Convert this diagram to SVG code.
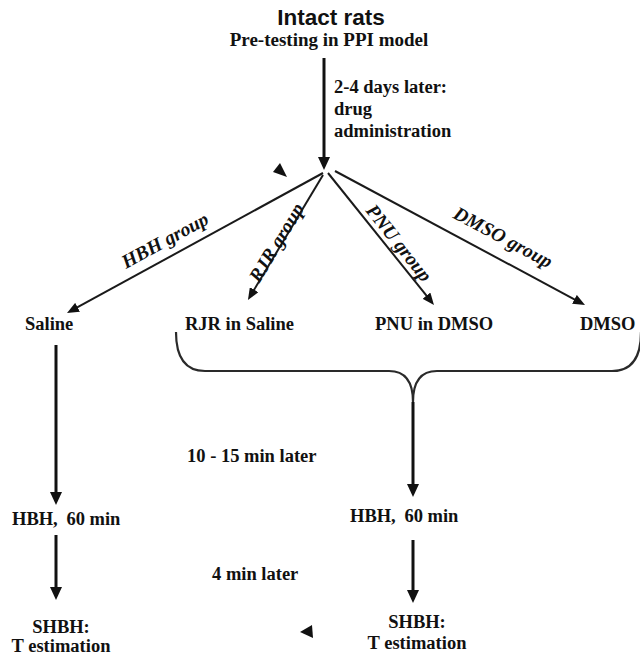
<svg xmlns="http://www.w3.org/2000/svg" width="640" height="656" viewBox="0 0 640 656">
<defs>
<style>
.t{font-family:"Liberation Serif","Times New Roman",serif;font-weight:bold;font-size:18.5px;fill:#111}
.title{font-family:"Liberation Sans",Arial,sans-serif;font-weight:bold;font-size:22.5px;fill:#111}
.lbl{font-family:"Liberation Serif","Times New Roman",serif;font-weight:bold;font-style:italic;font-size:19.5px;fill:#111}
.thick{stroke:#111;stroke-width:3;fill:none}
.thin{stroke:#1a1a1a;stroke-width:2;fill:none}
.brace{stroke:#2a2a2a;stroke-width:2.2;fill:none}
</style>
<marker id="ah" markerUnits="userSpaceOnUse" markerWidth="13" markerHeight="12" refX="3" refY="6" orient="auto">
<path d="M0,0 L13,6 L0,12 z" fill="#111"/>
</marker>
<marker id="ah2" markerUnits="userSpaceOnUse" markerWidth="12" markerHeight="10" refX="2" refY="5" orient="auto">
<path d="M0,0 L12,5 L0,10 z" fill="#111"/>
</marker>
</defs>
<rect width="640" height="656" fill="#fff"/>

<g id="connectors">
<line class="thick" x1="324" y1="58" x2="324" y2="160" marker-end="url(#ah)"/>
<line class="thin" x1="323" y1="173" x2="75.8" y2="308.2" marker-end="url(#ah2)"/>
<line class="thin" x1="323" y1="175" x2="253.1" y2="291.4" marker-end="url(#ah2)"/>
<line class="thin" x1="328" y1="173" x2="427.7" y2="297.2" marker-end="url(#ah2)"/>
<line class="thin" x1="335" y1="171" x2="576.2" y2="300.3" marker-end="url(#ah2)"/>
<path class="brace" d="M176,332 Q176,371 205,371 L389,371 Q413,371 413,402 Q413,371 437,371 L612,371 Q641,371 641,332"/>
<line class="thick" x1="413" y1="402" x2="413" y2="487" marker-end="url(#ah)"/>
<line class="thick" x1="413" y1="540" x2="413" y2="593" marker-end="url(#ah)"/>
<line class="thick" x1="56" y1="345" x2="56" y2="495" marker-end="url(#ah)"/>
<line class="thick" x1="56" y1="535" x2="56" y2="590" marker-end="url(#ah)"/>
<polygon points="280,163 273,172 287,177" fill="#111"/>
<polygon points="312,625 300,632 313,638" fill="#111"/>
</g>

<g id="labels">
<text class="t" x="334" y="93">2-4 days later:</text>
<text class="t" x="334" y="115">drug</text>
<text class="t" x="334" y="137">administration</text>
<text class="lbl" text-anchor="middle" transform="translate(168,246) rotate(-28.7)">HBH group</text>
<text class="lbl" text-anchor="middle" transform="translate(282,246) rotate(-59)">RJR group</text>
<text class="lbl" text-anchor="middle" transform="translate(394,247) rotate(51.3)">PNU group</text>
<text class="lbl" text-anchor="middle" transform="translate(500,243) rotate(28)">DMSO group</text>
<text class="t" x="187" y="462">10 - 15 min later</text>
<text class="t" x="212" y="580">4 min later</text>
</g>

<g id="node-intact">
<text class="title" x="331" y="25" text-anchor="middle">Intact rats</text>
<text class="t" x="329" y="46" text-anchor="middle" style="font-size:19px">Pre-testing in PPI model</text>
</g>
<g id="node-saline"><text class="t" x="25" y="330">Saline</text></g>
<g id="node-rjr"><text class="t" x="185" y="330">RJR in Saline</text></g>
<g id="node-pnu"><text class="t" x="375" y="330">PNU in DMSO</text></g>
<g id="node-dmso"><text class="t" x="580" y="330">DMSO</text></g>
<g id="node-hbh-left"><text class="t" x="12" y="525">HBH, <tspan dx="4">60 min</tspan></text></g>
<g id="node-hbh-right"><text class="t" x="350" y="522">HBH, <tspan dx="4">60 min</tspan></text></g>
<g id="node-shbh-left">
<text class="t" x="61" y="633" text-anchor="middle">SHBH:</text>
<text class="t" x="61" y="652" text-anchor="middle">T estimation</text>
</g>
<g id="node-shbh-right">
<text class="t" x="417" y="628" text-anchor="middle">SHBH:</text>
<text class="t" x="417" y="649" text-anchor="middle">T estimation</text>
</g>
</svg>
